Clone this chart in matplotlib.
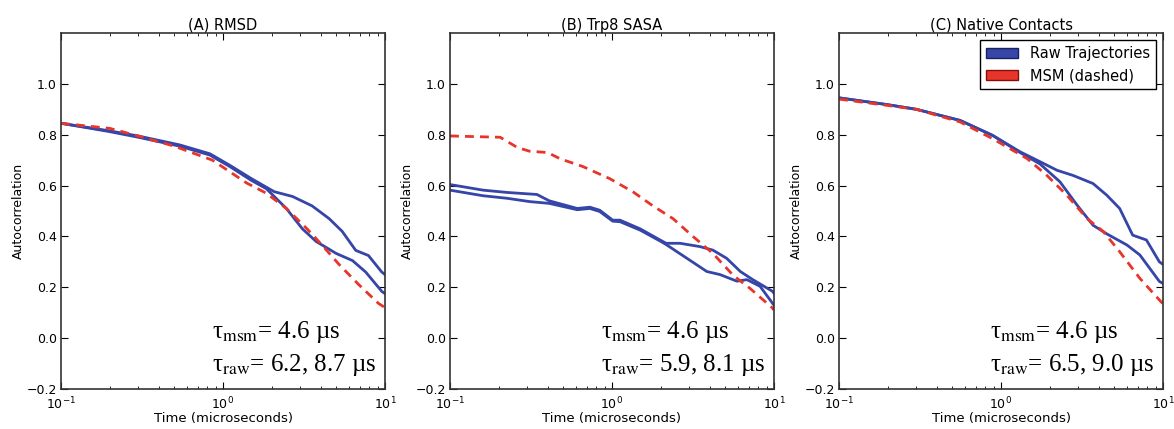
import matplotlib
matplotlib.use("Agg")
import matplotlib.pyplot as plt
from matplotlib.patches import Patch

# (A) RMSD
a_msm_t = [0.1, 0.2, 0.3, 0.5, 0.86, 1.4, 1.85, 2.46, 3.3, 4.1, 5.2, 6.9, 9.1, 10]
a_msm_v = [0.845, 0.825, 0.795, 0.755, 0.70, 0.61, 0.57, 0.51, 0.43, 0.365, 0.29, 0.21, 0.137, 0.12]
a_raw1_t = [0.1, 0.2, 0.3, 0.54, 0.83, 1.1, 1.5, 2.07, 2.69, 3.55, 4.52, 5.44, 6.6, 7.9, 9.55, 10]
a_raw1_v = [0.845, 0.815, 0.795, 0.76, 0.725, 0.68, 0.627, 0.576, 0.557, 0.52, 0.47, 0.42, 0.345, 0.325, 0.26, 0.25]
a_raw2_t = [0.1, 0.2, 0.3, 0.54, 0.83, 1.1, 1.5, 1.85, 2.46, 3.09, 3.76, 5.0, 6.3, 7.6, 9.55, 10]
a_raw2_v = [0.845, 0.812, 0.79, 0.755, 0.72, 0.675, 0.62, 0.588, 0.51, 0.43, 0.38, 0.333, 0.305, 0.26, 0.184, 0.175]

# (B) Trp8 SASA
b_msm_t = [0.1, 0.204, 0.26, 0.31, 0.40, 0.48, 0.66, 0.97, 1.35, 1.79, 2.38, 3.16, 4.2, 5.6, 7.1, 9.8, 10]
b_msm_v = [0.795, 0.79, 0.75, 0.735, 0.73, 0.705, 0.675, 0.627, 0.575, 0.52, 0.47, 0.40, 0.333, 0.247, 0.196, 0.118, 0.11]
b_raw1_t = [0.1, 0.16, 0.225, 0.344, 0.41, 0.61, 0.73, 0.84, 1.01, 1.12, 1.49, 1.98, 2.16, 2.63, 3.49, 4.2, 5.1, 6.2, 7.4, 9.8, 10]
b_raw1_v = [0.604, 0.582, 0.573, 0.565, 0.54, 0.51, 0.515, 0.503, 0.464, 0.464, 0.43, 0.386, 0.373, 0.373, 0.36, 0.346, 0.314, 0.262, 0.23, 0.184, 0.176]
b_raw2_t = [0.1, 0.16, 0.225, 0.31, 0.41, 0.61, 0.73, 0.84, 1.01, 1.12, 1.49, 1.98, 2.16, 2.9, 3.85, 4.64, 5.9, 6.8, 8.2, 9.8, 10]
b_raw2_v = [0.582, 0.56, 0.55, 0.537, 0.53, 0.505, 0.51, 0.498, 0.46, 0.458, 0.425, 0.382, 0.368, 0.314, 0.262, 0.25, 0.224, 0.23, 0.204, 0.137, 0.13]

# (C) Native Contacts
c_msm_t = [0.1, 0.2, 0.3, 0.56, 0.89, 1.45, 1.92, 2.55, 3.4, 4.27, 5.4, 7.2, 9.5, 10]
c_msm_v = [0.94, 0.915, 0.9, 0.85, 0.784, 0.706, 0.64, 0.562, 0.47, 0.42, 0.34, 0.235, 0.15, 0.135]
c_raw1_t = [0.1, 0.2, 0.3, 0.56, 0.89, 1.31, 1.74, 2.22, 2.78, 3.7, 4.5, 5.4, 6.5, 7.9, 9.5, 10]
c_raw1_v = [0.945, 0.918, 0.9, 0.856, 0.797, 0.733, 0.694, 0.66, 0.64, 0.608, 0.562, 0.51, 0.405, 0.386, 0.30, 0.29]
c_raw2_t = [0.1, 0.2, 0.3, 0.56, 0.89, 1.31, 1.74, 2.31, 2.95, 3.7, 4.5, 6.0, 7.2, 9.5, 10]
c_raw2_v = [0.945, 0.918, 0.9, 0.856, 0.797, 0.73, 0.685, 0.615, 0.523, 0.444, 0.41, 0.366, 0.327, 0.223, 0.215]

titles = ["(A) RMSD", "(B) Trp8 SASA", "(C) Native Contacts"]
tau_msm = ["4.6", "4.6", "4.6"]
tau_raw = ["6.2, 8.7", "5.9, 8.1", "6.5, 9.0"]

panels = [
    (a_msm_t, a_msm_v, [(a_raw1_t, a_raw1_v), (a_raw2_t, a_raw2_v)]),
    (b_msm_t, b_msm_v, [(b_raw1_t, b_raw1_v), (b_raw2_t, b_raw2_v)]),
    (c_msm_t, c_msm_v, [(c_raw1_t, c_raw1_v), (c_raw2_t, c_raw2_v)]),
]

blue = "#3545a8"
red = "#e8352a"

plt.rcParams["mathtext.fontset"] = "stix"
plt.rcParams["font.family"] = "DejaVu Sans"

fig = plt.figure(figsize=(11.74, 4.29), dpi=100)
lefts = [61 / 1174, 450 / 1174, 839 / 1174]
width = 324 / 1174
bottom = 1 - 389 / 429
height = (389 - 33) / 429

for i, (msm_t, msm_v, raws) in enumerate(panels):
    ax = fig.add_axes([lefts[i], bottom, width, height])
    for rt, rv in raws:
        ax.plot(rt, rv, color=blue, lw=2.0)
    ax.plot(msm_t, msm_v, color=red, lw=2.0, ls=(0, (3.2, 2.2)))
    ax.set_xscale("log")
    ax.set_xlim(0.1, 10)
    ax.set_ylim(-0.2, 1.2)
    ax.set_yticks([-0.2, 0.0, 0.2, 0.4, 0.6, 0.8, 1.0])
    ax.tick_params(which="both", direction="in", top=True, right=True, labelsize=9)
    ax.tick_params(which="major", length=5)
    ax.tick_params(which="minor", length=2.5)
    ax.tick_params(axis="x", which="major", pad=4.5)
    ax.tick_params(axis="y", which="major", pad=3)
    for s in ax.spines.values():
        s.set_linewidth(1.2)
        s.set_color("#333333")
    ax.set_title(titles[i], fontsize=10.5, pad=2)
    ax.set_xlabel("Time (microseconds)", fontsize=9.5, labelpad=0)
    ax.set_ylabel("Autocorrelation", fontsize=9, labelpad=1)
    tr = ax.get_yaxis_transform()
    ax.text(0.465, 0.0, "τ$_{\\rm msm}$= " + tau_msm[i] + " µs", transform=tr,
            family="Liberation Serif", fontsize=18, va="baseline", ha="left")
    ax.text(0.465, -0.13, "τ$_{\\rm raw}$= " + tau_raw[i] + " µs", transform=tr,
            family="Liberation Serif", fontsize=18, va="baseline", ha="left")
    if i == 2:
        handles = [Patch(facecolor=blue, edgecolor="#1a2060", label="Raw Trajectories"),
                   Patch(facecolor=red, edgecolor="#801010", label="MSM (dashed)")]
        leg = ax.legend(handles=handles, loc="upper right", fontsize=10.5, fancybox=False,
                        framealpha=1, borderaxespad=0.5, handlelength=2.2)
        leg.get_frame().set_edgecolor("black")
        leg.get_frame().set_linewidth(1.0)

fig.savefig("out.png", dpi=100)
